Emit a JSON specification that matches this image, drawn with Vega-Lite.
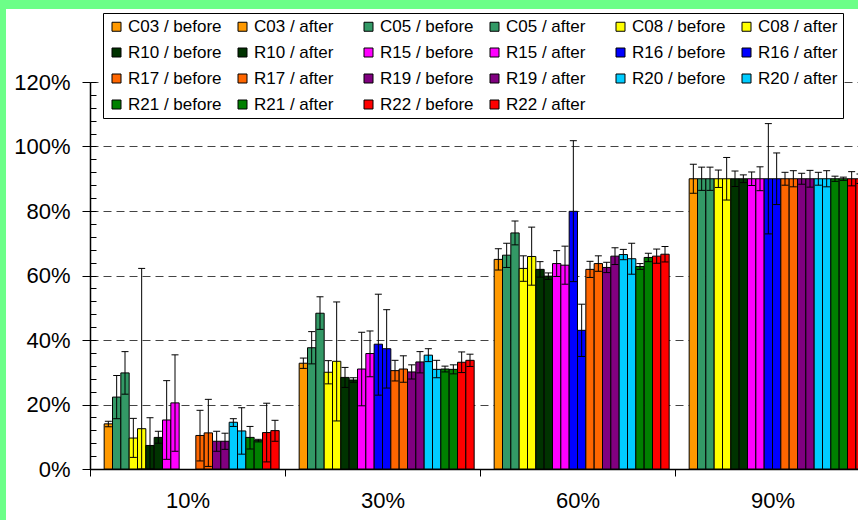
{
  "$schema": "https://vega.github.io/schema/vega-lite/v6.json",
  "width": 852,
  "height": 511,
  "autosize": {"type": "none"},
  "padding": {"left": 6, "top": 9, "right": 0, "bottom": 0},
  "background": "#6cff88",
  "config": {"font": "Liberation Sans", "view": {"fill": "white", "stroke": null}},
  "data": {"values": [
    {"c": "10%", "s": "C03 / after", "v": 14.0, "hi": 14.8, "lo": 13.1},
    {"c": "10%", "s": "C05 / before", "v": 22.3, "hi": 29.0, "lo": 15.6},
    {"c": "10%", "s": "C05 / after", "v": 29.8, "hi": 36.4, "lo": 23.2},
    {"c": "10%", "s": "C08 / before", "v": 9.6, "hi": 15.7, "lo": 3.6},
    {"c": "10%", "s": "C08 / after", "v": 12.5, "hi": 62.2, "lo": -37},
    {"c": "10%", "s": "R10 / before", "v": 7.3, "hi": 15.9, "lo": -1.3},
    {"c": "10%", "s": "R10 / after", "v": 9.8, "hi": 11.7, "lo": 8.0},
    {"c": "10%", "s": "R15 / before", "v": 15.2, "hi": 27.4, "lo": 3.0},
    {"c": "10%", "s": "R15 / after", "v": 20.5, "hi": 35.4, "lo": 5.5},
    {"c": "10%", "s": "R17 / before", "v": 10.4, "hi": 18.2, "lo": 2.5},
    {"c": "10%", "s": "R17 / after", "v": 11.2, "hi": 21.6, "lo": 0.8},
    {"c": "10%", "s": "R19 / before", "v": 8.6, "hi": 11.7, "lo": 5.5},
    {"c": "10%", "s": "R19 / after", "v": 8.6, "hi": 11.1, "lo": 6.1},
    {"c": "10%", "s": "R20 / before", "v": 14.5, "hi": 15.6, "lo": 13.2},
    {"c": "10%", "s": "R20 / after", "v": 11.8, "hi": 19.0, "lo": 4.6},
    {"c": "10%", "s": "R21 / before", "v": 9.8, "hi": 13.2, "lo": 6.2},
    {"c": "10%", "s": "R21 / after", "v": 8.8, "hi": 9.2, "lo": 8.4},
    {"c": "10%", "s": "R22 / before", "v": 11.3, "hi": 20.4, "lo": 2.2},
    {"c": "10%", "s": "R22 / after", "v": 11.9, "hi": 15.1, "lo": 8.6},

    {"c": "30%", "s": "C03 / after", "v": 32.8, "hi": 34.4, "lo": 31.2},
    {"c": "30%", "s": "C05 / before", "v": 37.6, "hi": 42.6, "lo": 32.6},
    {"c": "30%", "s": "C05 / after", "v": 48.3, "hi": 53.4, "lo": 43.3},
    {"c": "30%", "s": "C08 / before", "v": 30.0, "hi": 33.6, "lo": 26.4},
    {"c": "30%", "s": "C08 / after", "v": 33.4, "hi": 51.8, "lo": 14.9},
    {"c": "30%", "s": "R10 / before", "v": 28.4, "hi": 31.5, "lo": 25.3},
    {"c": "30%", "s": "R10 / after", "v": 27.6, "hi": 28.3, "lo": 26.9},
    {"c": "30%", "s": "R15 / before", "v": 31.0, "hi": 42.4, "lo": 19.6},
    {"c": "30%", "s": "R15 / after", "v": 35.8, "hi": 42.8, "lo": 28.6},
    {"c": "30%", "s": "R16 / before", "v": 38.7, "hi": 54.2, "lo": 22.9},
    {"c": "30%", "s": "R16 / after", "v": 37.3, "hi": 49.4, "lo": 25.1},
    {"c": "30%", "s": "R17 / before", "v": 30.5, "hi": 33.7, "lo": 27.3},
    {"c": "30%", "s": "R17 / after", "v": 31.0, "hi": 35.1, "lo": 26.9},
    {"c": "30%", "s": "R19 / before", "v": 30.1, "hi": 32.3, "lo": 27.9},
    {"c": "30%", "s": "R19 / after", "v": 33.2, "hi": 36.4, "lo": 29.8},
    {"c": "30%", "s": "R20 / before", "v": 35.3, "hi": 37.3, "lo": 33.3},
    {"c": "30%", "s": "R20 / after", "v": 30.9, "hi": 33.7, "lo": 28.3},
    {"c": "30%", "s": "R21 / before", "v": 31.0, "hi": 31.9, "lo": 30.1},
    {"c": "30%", "s": "R21 / after", "v": 30.9, "hi": 32.3, "lo": 29.5},
    {"c": "30%", "s": "R22 / before", "v": 33.1, "hi": 36.3, "lo": 29.9},
    {"c": "30%", "s": "R22 / after", "v": 33.7, "hi": 35.6, "lo": 31.8},

    {"c": "60%", "s": "C03 / after", "v": 65.0, "hi": 68.3, "lo": 61.7},
    {"c": "60%", "s": "C05 / before", "v": 66.3, "hi": 70.0, "lo": 62.5},
    {"c": "60%", "s": "C05 / after", "v": 73.2, "hi": 76.9, "lo": 69.5},
    {"c": "60%", "s": "C08 / before", "v": 62.2, "hi": 66.1, "lo": 58.2},
    {"c": "60%", "s": "C08 / after", "v": 65.9, "hi": 75.0, "lo": 57.0},
    {"c": "60%", "s": "R10 / before", "v": 61.9, "hi": 64.3, "lo": 59.5},
    {"c": "60%", "s": "R10 / after", "v": 59.8, "hi": 60.8, "lo": 58.8},
    {"c": "60%", "s": "R15 / before", "v": 63.7, "hi": 67.7, "lo": 59.7},
    {"c": "60%", "s": "R15 / after", "v": 63.2, "hi": 69.1, "lo": 57.3},
    {"c": "60%", "s": "R16 / before", "v": 79.9, "hi": 101.8, "lo": 58.1},
    {"c": "60%", "s": "R16 / after", "v": 43.0, "hi": 51.1, "lo": 34.9},
    {"c": "60%", "s": "R17 / before", "v": 61.9, "hi": 64.4, "lo": 59.4},
    {"c": "60%", "s": "R17 / after", "v": 63.7, "hi": 66.1, "lo": 61.3},
    {"c": "60%", "s": "R19 / before", "v": 62.5, "hi": 64.1, "lo": 60.9},
    {"c": "60%", "s": "R19 / after", "v": 66.0, "hi": 68.6, "lo": 63.4},
    {"c": "60%", "s": "R20 / before", "v": 66.5, "hi": 68.1, "lo": 64.9},
    {"c": "60%", "s": "R20 / after", "v": 65.2, "hi": 70.0, "lo": 60.4},
    {"c": "60%", "s": "R21 / before", "v": 62.8, "hi": 63.7, "lo": 61.9},
    {"c": "60%", "s": "R21 / after", "v": 65.6, "hi": 66.9, "lo": 64.3},
    {"c": "60%", "s": "R22 / before", "v": 66.0, "hi": 68.2, "lo": 63.8},
    {"c": "60%", "s": "R22 / after", "v": 66.6, "hi": 69.0, "lo": 64.2},

    {"c": "90%", "s": "C03 / after", "v": 90, "hi": 94.5, "lo": 85.5},
    {"c": "90%", "s": "C05 / before", "v": 90, "hi": 93.6, "lo": 86.4},
    {"c": "90%", "s": "C05 / after", "v": 90, "hi": 93.6, "lo": 86.4},
    {"c": "90%", "s": "C08 / before", "v": 90, "hi": 92.7, "lo": 87.3},
    {"c": "90%", "s": "C08 / after", "v": 90, "hi": 96.6, "lo": 83.4},
    {"c": "90%", "s": "R10 / before", "v": 90, "hi": 92.4, "lo": 87.6},
    {"c": "90%", "s": "R10 / after", "v": 90, "hi": 91.2, "lo": 88.8},
    {"c": "90%", "s": "R15 / before", "v": 90, "hi": 92.1, "lo": 87.9},
    {"c": "90%", "s": "R15 / after", "v": 90, "hi": 93.7, "lo": 86.3},
    {"c": "90%", "s": "R16 / before", "v": 90, "hi": 107.1, "lo": 72.9},
    {"c": "90%", "s": "R16 / after", "v": 90, "hi": 98.0, "lo": 82.0},
    {"c": "90%", "s": "R17 / before", "v": 90, "hi": 92.0, "lo": 88.0},
    {"c": "90%", "s": "R17 / after", "v": 90, "hi": 92.5, "lo": 87.5},
    {"c": "90%", "s": "R19 / before", "v": 90, "hi": 91.7, "lo": 88.3},
    {"c": "90%", "s": "R19 / after", "v": 90, "hi": 92.6, "lo": 87.4},
    {"c": "90%", "s": "R20 / before", "v": 90, "hi": 92.0, "lo": 88.0},
    {"c": "90%", "s": "R20 / after", "v": 90, "hi": 92.5, "lo": 87.5},
    {"c": "90%", "s": "R21 / before", "v": 90, "hi": 90.8, "lo": 89.2},
    {"c": "90%", "s": "R21 / after", "v": 90, "hi": 90.5, "lo": 89.5},
    {"c": "90%", "s": "R22 / before", "v": 90, "hi": 92.2, "lo": 87.8},
    {"c": "90%", "s": "R22 / after", "v": 90, "hi": 91.5, "lo": 88.5}
  ]},
  "encoding": {
    "x": {
      "field": "c", "type": "nominal", "sort": ["10%", "30%", "60%", "90%"],
      "scale": {"range": [84, 864], "paddingInner": 0, "paddingOuter": 0},
      "axis": {"orient": "bottom", "offset": -51, "title": null, "labelAngle": 0, "tickBand": "extent", "tickSize": 7, "tickColor": "black", "domainColor": "black", "domainWidth": 1.5, "labelFontSize": 22, "labelColor": "black", "labelPadding": 14, "grid": false}
    },
    "xOffset": {
      "field": "s", "type": "nominal",
      "scale": {"domain": ["C03 / before", "C03 / after", "C05 / before", "C05 / after", "C08 / before", "C08 / after", "R10 / before", "R10 / after", "R15 / before", "R15 / after", "R16 / before", "R16 / after", "R17 / before", "R17 / after", "R19 / before", "R19 / after", "R20 / before", "R20 / after", "R21 / before", "R21 / after", "R22 / before", "R22 / after"], "paddingInner": 0, "paddingOuter": 0.7}
    }
  },
  "layer": [
    {
      "mark": {"type": "bar", "stroke": "black", "strokeWidth": 1, "opacity": 1},
      "encoding": {
        "y": {
          "field": "v", "type": "quantitative",
          "scale": {"domain": [0, 120], "range": [460, 73], "nice": false, "clamp": true, "zero": true},
          "axis": {"orient": "left", "offset": -84, "title": null, "values": [0, 20, 40, 60, 80, 100, 120], "labelExpr": "datum.value + '%'", "tickSize": 8, "tickColor": "black", "domainColor": "black", "domainWidth": 1.5, "labelFontSize": 22, "labelColor": "black", "labelPadding": 12, "grid": true, "gridDash": [8, 5], "gridColor": "#444", "gridWidth": 1}
        },
        "color": {
          "field": "s", "type": "nominal",
          "scale": {
            "domain": ["C03 / before", "C03 / after", "C05 / before", "C05 / after", "C08 / before", "C08 / after", "R10 / before", "R10 / after", "R15 / before", "R15 / after", "R16 / before", "R16 / after", "R17 / before", "R17 / after", "R19 / before", "R19 / after", "R20 / before", "R20 / after", "R21 / before", "R21 / after", "R22 / before", "R22 / after"],
            "range": ["#FF9900", "#FF9900", "#339966", "#339966", "#FFFF00", "#FFFF00", "#003300", "#003300", "#FF00FF", "#FF00FF", "#0000FF", "#0000FF", "#FF6600", "#FF6600", "#800080", "#800080", "#00CCFF", "#00CCFF", "#008000", "#008000", "#FF0000", "#FF0000"]
          },
          "legend": {"orient": "none", "legendX": 97, "legendY": 4, "direction": "horizontal", "columns": 6, "title": null, "symbolType": "square", "symbolSize": 81, "symbolStrokeColor": "black", "symbolStrokeWidth": 1, "symbolOpacity": 1, "labelFontSize": 17, "labelColor": "black", "labelLimit": 0, "labelOffset": 3, "columnPadding": 12, "rowPadding": 8, "padding": 5, "strokeColor": "black", "fillColor": "white", "gridAlign": "all"}
        }
      }
    },
    {
      "mark": {"type": "rule", "color": "black", "strokeWidth": 1},
      "encoding": {
        "y": {"field": "lo", "type": "quantitative", "axis": {"orient": "left", "offset": -84, "title": null, "values": [0, 4, 8, 12, 16, 20, 24, 28, 32, 36, 40, 44, 48, 52, 56, 60, 64, 68, 72, 76, 80, 84, 88, 92, 96, 100, 104, 108, 112, 116, 120], "labels": false, "domain": false, "grid": false, "tickSize": -6, "tickColor": "black"}},
        "y2": {"field": "hi"}
      }
    },
    {
      "mark": {"type": "tick", "color": "black", "size": 7, "thickness": 1, "opacity": 1},
      "encoding": {"y": {"field": "hi", "type": "quantitative", "axis": null}}
    },
    {
      "mark": {"type": "tick", "color": "black", "size": 7, "thickness": 1, "opacity": 1},
      "encoding": {"y": {"field": "lo", "type": "quantitative", "axis": null}}
    }
  ],
  "resolve": {"axis": {"y": "independent"}}
}
